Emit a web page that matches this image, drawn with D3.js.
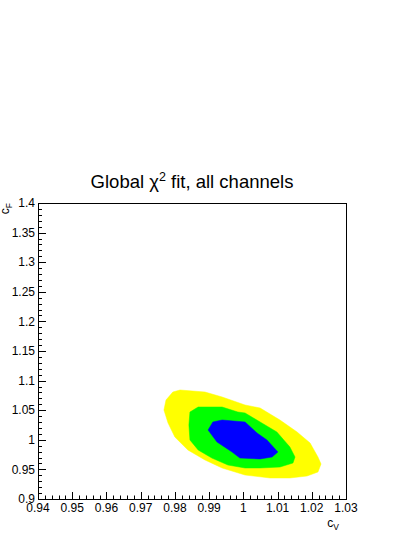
<!DOCTYPE html>
<html><head><meta charset="utf-8">
<script src="https://cdn.jsdelivr.net/npm/d3@7/dist/d3.min.js"></script>
<style>body{margin:0;background:#fff}svg{display:block}text{font-family:"Liberation Sans",Arial,sans-serif}</style>
</head><body>
<svg id="c" width="415" height="537"></svg>
<script>
const titleMain = "Global ";
const xTickLabels = ["0.94","0.95","0.96","0.97","0.98","0.99","1","1.01","1.02","1.03"];
const yTickLabels = ["0.9","0.95","1","1.05","1.1","1.15","1.2","1.25","1.3","1.35","1.4"];
// 95% (yellow)
const yellowCV = [0.9794,0.9815,0.9888,0.9938,1.0005,1.0049,1.0107,1.0157,1.0195,1.0218,1.0227,1.0218,1.0186,1.0136,1.0078,1.0005,0.9938,0.9888,0.9838,0.9800,0.9780,0.9768,0.9774];
const yellowCF = [1.0807,1.0841,1.0807,1.0723,1.0588,1.0537,1.0334,1.0132,0.9946,0.9709,0.9591,0.9456,0.9388,0.9355,0.9355,0.9405,0.9524,0.9659,0.9828,1.0047,1.0284,1.0503,1.0672];
// 68% (green)
const greenCV = [0.9868,0.9938,0.9984,1.0005,1.0049,1.0098,1.0136,1.0151,1.0145,1.0107,1.0049,1.0005,0.9955,0.9908,0.9868,0.9844,0.9841,0.9844];
const greenCF = [1.0554,1.0554,1.0469,1.0453,1.0301,1.0132,0.9878,0.9709,0.9608,0.9540,0.9524,0.9524,0.9574,0.9692,0.9828,0.9997,1.0250,1.0469];
// inner (blue)
const blueCV = [0.9911,0.9938,1.0005,1.0040,1.0069,1.0101,1.0084,1.0049,0.9990,0.9967,0.9923,0.9897];
const blueCF = [1.0301,1.0334,1.0301,1.0115,0.9997,0.9794,0.9709,0.9676,0.9692,0.9794,0.9963,1.0165];

const svg = d3.select("#c");
const L=38,R=346,T=203,B=499;
const x = d3.scaleLinear().domain([0.94,1.03]).range([L,R]);
const y = d3.scaleLinear().domain([0.9,1.4]).range([B,T]);

const line = d3.line().x(d=>x(d[0])).y(d=>y(d[1])).curve(d3.curveLinearClosed);
[[yellowCV,yellowCF,"#ffff00"],[greenCV,greenCF,"#00ff00"],[blueCV,blueCF,"#0000ff"]].forEach(([a,b,c])=>{
  svg.append("path").attr("d",line(a.map((v,i)=>[v,b[i]]))).attr("fill",c).attr("stroke",c).attr("stroke-width",0.5);
});

// frame
svg.append("rect").attr("x",L+0.5).attr("y",T+0.5).attr("width",R-L).attr("height",B-T)
  .attr("fill","none").attr("stroke","#000").attr("stroke-width",1);

// x ticks
const xMajor = xTickLabels.map(Number);
const xMinor = d3.range(0,46).map(i=>0.94+i*0.002);
const g = svg.append("g").attr("stroke","#000").attr("stroke-width",1);
xMinor.forEach((v,i)=>{
  const px=Math.round(x(v))+0.5;
  const len = (i%5===0)?7:3.5;
  g.append("line").attr("x1",px).attr("x2",px).attr("y1",B).attr("y2",B-len);
});
xMajor.forEach((v,i)=>{
  svg.append("text").attr("x",x(v)).attr("y",512).attr("text-anchor","middle").attr("font-size",12).text(xTickLabels[i]);
});
// y ticks
const yMajor = yTickLabels.map(Number);
const yMinor = d3.range(0,51).map(i=>0.9+i*0.01);
yMinor.forEach((v,i)=>{
  const py=Math.round(y(v))+0.5;
  const len = (i%5===0)?8:4;
  g.append("line").attr("x1",L).attr("x2",L+len).attr("y1",py).attr("y2",py);
});
yMajor.forEach((v,i)=>{
  svg.append("text").attr("x",35).attr("y",y(v)).attr("dy","0.35em").attr("text-anchor","end").attr("font-size",12).text(yTickLabels[i]);
});

// title
const t = svg.append("text").attr("x",192).attr("y",188).attr("text-anchor","middle").attr("font-size",18.5);
t.append("tspan").text(titleMain);
t.append("tspan").text("χ");
t.append("tspan").attr("font-size",12.5).attr("dy",-7).text("2");
t.append("tspan").attr("dy",7).text(" fit, all channels");

// axis titles
const xt = svg.append("text").attr("x",339).attr("y",527).attr("text-anchor","end").attr("font-size",12);
xt.append("tspan").text("c");
xt.append("tspan").attr("font-size",8.5).attr("dy",3).text("V");
const yt = svg.append("text").attr("transform","translate(9,203) rotate(-90)").attr("text-anchor","end").attr("font-size",12);
yt.append("tspan").text("c");
yt.append("tspan").attr("font-size",8.5).attr("dy",3).text("F");
</script>
</body></html>
